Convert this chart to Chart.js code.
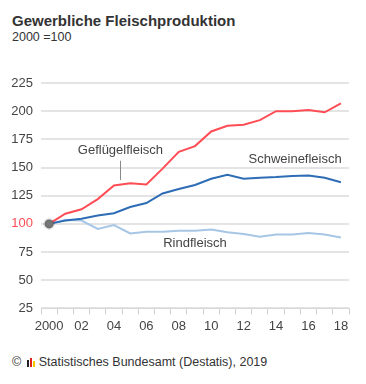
<!DOCTYPE html>
<html>
<head>
<meta charset="utf-8">
<script src="https://cdn.jsdelivr.net/npm/chart.js@4"></script>
<style>
  body { margin: 0; width: 366px; height: 384px; background: #fff; font-family: "Liberation Sans", Arial, sans-serif; color: #333; position: relative; overflow: hidden; }
  #title { position: absolute; left: 12px; top: 12px; font-size: 15px; font-weight: bold; color: #333; }
  #sub { position: absolute; left: 12px; top: 30px; font-size: 12.5px; color: #333; }
  #wrap { position: absolute; left: 0; top: 60px; width: 366px; height: 280px; }
  #foot { position: absolute; left: 12px; top: 355px; font-size: 12.5px; color: #333; }
  .logo { display: inline-block; margin: 0 3px 0 2px; vertical-align: -1px; }
  .logo i { display: inline-block; width: 2px; margin-right: 1px; }
</style>
</head>
<body>
<div id="title">Gewerbliche Fleischproduktion</div>
<div id="sub">2000 =100</div>
<div id="wrap"><canvas id="c"></canvas></div>
<div id="foot">© <span class="logo"><i style="height:7px;background:#222"></i><i style="height:9px;background:#e2231a"></i><i style="height:6px;background:#f7c600"></i></span>Statistisches Bundesamt (Destatis), 2019</div>
<script>
const years = ["2000","2001","2002","2003","2004","2005","2006","2007","2008","2009",
  "2010","2011","2012","2013","2014","2015","2016","2017","2018"];
const gefluegel = [100, 109, 113, 122, 134, 136, 135, 149, 164, 169, 182, 187, 188, 192, 200, 200, 201, 199, 207];
const schwein = [100, 103, 104.5, 107.5, 109.5, 115, 118.5, 127, 131, 134.5, 140, 143.5, 140, 141, 141.5, 142.5, 143, 141, 137];
const rind = [100, 103.5, 103, 95.5, 99, 91.5, 93, 93, 94, 94, 95, 92.5, 91, 88.5, 90.5, 90.5, 92, 90.5, 88];
const base = [100];
const yTicks = [25, 50, 75, 100, 125, 150, 175, 200, 225];

// labels placed in data units
const notes = [
  { text: "Geflügelfleisch", year: "2004", dx: 0.4, value: 165, align: "center", leader: [156, 139] },
  { text: "Schweinefleisch", year: "2018", dx: 0.05, value: 157.5, align: "right" },
  { text: "Rindfleisch", year: "2009", dx: 0, value: 82.5, align: "center" },
];

const notePlugin = {
  id: "notes",
  afterDatasetsDraw(chart) {
    const { ctx, scales: { x, y } } = chart;
    ctx.save();
    ctx.font = "13px 'Liberation Sans', Arial, sans-serif";
    ctx.fillStyle = "#444";
    ctx.textBaseline = "middle";
    notes.forEach((n) => {
      const i = years.indexOf(n.year);
      const px = x.getPixelForValue(i + n.dx);
      ctx.textAlign = n.align;
      ctx.fillText(n.text, px, y.getPixelForValue(n.value));
      if (n.leader) {
        ctx.strokeStyle = "#888";
        ctx.lineWidth = 1;
        ctx.beginPath();
        ctx.moveTo(Math.round(px) + 0.5, y.getPixelForValue(n.leader[0]));
        ctx.lineTo(Math.round(px) + 0.5, y.getPixelForValue(n.leader[1]));
        ctx.stroke();
      }
    });
    ctx.restore();
  },
};

const line = (label, data, color, w) => ({
  label, data, borderColor: color, borderWidth: w, pointRadius: 0, tension: 0, fill: false,
});

new Chart(document.getElementById("c"), {
  type: "line",
  data: {
    labels: years,
    datasets: [
      { label: "base", data: base, pointRadius: 4.5, pointBackgroundColor: "#777",
        pointBorderColor: "rgba(0,0,0,0.1)", pointBorderWidth: 3, showLine: false, order: -1 },
      line("Geflügelfleisch", gefluegel, "#ff4d55", 2),
      line("Schweinefleisch", schwein, "#2e6db5", 2),
      line("Rindfleisch", rind, "#a7c6e6", 2),
    ],
  },
  plugins: [notePlugin],
  options: {
    responsive: true,
    maintainAspectRatio: false,
    animation: false,
    layout: { padding: { top: 23, right: 17, left: 0, bottom: 2 } },
    plugins: { legend: { display: false }, tooltip: { enabled: false } },
    scales: {
      x: {
        offset: true,
        grid: { offset: true, drawOnChartArea: false, tickLength: 6, color: "#cfcfcf" },
        border: { color: "#d8d8d8" },
        ticks: {
          autoSkip: false, maxRotation: 0, color: "#444", padding: 4,
          font: { size: 13, family: "'Liberation Sans', Arial, sans-serif" },
          callback: (v, i) => (i % 2 ? "" : i === 0 ? years[i] : years[i].slice(2)),
        },
      },
      y: {
        min: 25, max: 225,
        afterFit: (s) => { s.width = 41; },
        afterBuildTicks: (s) => { s.ticks = yTicks.map((v) => ({ value: v })); },
        grid: { color: "#e4e4e4", lineWidth: 2, drawTicks: false },
        border: { display: false },
        ticks: {
          padding: 8, color: (c) => (c.tick.value === 100 ? "#ff4d55" : "#444"),
          font: { size: 13, family: "'Liberation Sans', Arial, sans-serif" },
        },
      },
    },
  },
});
</script>
</body>
</html>
